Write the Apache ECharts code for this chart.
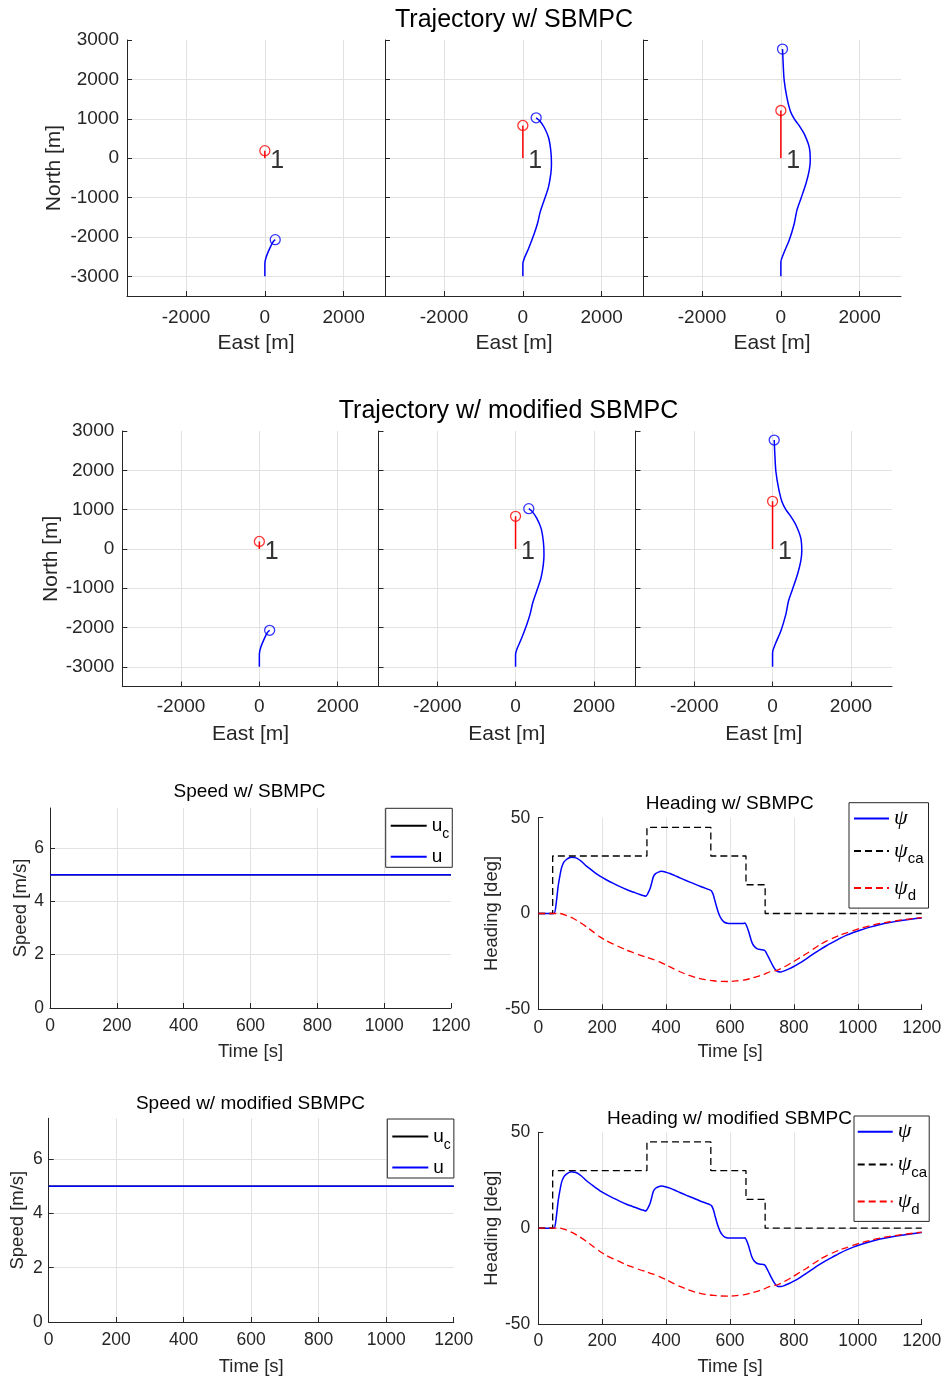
<!DOCTYPE html>
<html>
<head>
<meta charset="utf-8">
<script src="https://cdn.jsdelivr.net/npm/echarts@6/dist/echarts.min.js"></script>
<style>
  html, body { margin: 0; padding: 0; background: #ffffff; }
  #chart { width: 943px; height: 1381px; }
</style>
</head>
<body>
<div id="chart"></div>
<script>
// ---------------------------------------------------------------------------
// Data
// ---------------------------------------------------------------------------

// Own-ship track (East, North) [m] at three snapshots of the encounter
const ownTrack1 = [[0, -3000], [0, -2680], [34, -2510], [119, -2300], [203, -2130], [263, -2070]];
const ownTrack2 = [[0, -3000], [0, -2680], [34, -2550], [143, -2300], [287, -1920], [371, -1660],
  [439, -1370], [540, -1070], [650, -735], [709, -400], [726, -145], [709, 195], [650, 530],
  [540, 785], [422, 955], [338, 1025]];
const ownTrack3 = [[0, -3000], [0, -2640], [68, -2425], [212, -2085], [339, -1665], [407, -1325],
  [508, -1030], [636, -650], [720, -310], [746, -60], [720, 280], [593, 615], [470, 820], [340, 1000],
  [240, 1200], [153, 1545], [85, 1970], [59, 2390], [42, 2770]];

// Obstacle 1: starts at the origin and heads north; north position at each snapshot [m]
const obstacleStart = [0, 0];
const obstacleNorth = [190, 830, 1210];
const obstacleId = '1';

// Surge speed [m/s]
const speedTime = [0, 1200];
const speedCommand = [5, 5];
const speedActual = [5, 5];

// Heading [deg] versus time [s]
const headingPsi = [[0, 0], [49, 0], [55, 4], [62, 14], [68, 20], [73, 24], [80, 26.8], [89, 28.3],
  [97, 29.1], [104, 29.4], [112, 29.2], [120, 28.9], [135, 27.2], [151, 24.7], [172, 22], [193, 19.5],
  [214, 17.5], [235, 15.7], [256, 14], [276, 12.5], [297, 11.2], [318, 9.9], [330, 9.3], [337, 9.0],
  [343, 10.5], [350, 13], [355, 16], [360, 19.1], [367, 20.8], [376, 21.6], [385, 22], [391, 21.9],
  [400, 21.5], [412, 20.9], [428, 19.8], [443, 18.6], [464, 17.1], [485, 15.7], [506, 14.2],
  [527, 12.9], [537, 12.3], [542, 11.8], [548, 9.6], [553, 6.5], [558, 3.5], [563, 0.8], [569, -1.7],
  [576, -3.5], [584, -4.7], [592, -5.1], [600, -5.2], [620, -5.2], [640, -5.2], [647, -5.0],
  [652, -6.5], [657, -8.7], [662, -11.5], [668, -14.8], [675, -17], [684, -18.3], [695, -18.8],
  [705, -19], [710, -19.5], [715, -21], [720, -22.6], [728, -25.3], [736, -27.8], [743, -29.5],
  [751, -30.4], [760, -30.5], [768, -30.1], [783, -29], [798, -27.8], [819, -25.8], [840, -23.5],
  [861, -21.1], [882, -18.8], [903, -16.7], [924, -14.8], [944, -13], [965, -11.3], [986, -9.9],
  [1007, -8.7], [1038, -7.1], [1070, -5.7], [1100, -4.7], [1132, -3.8], [1165, -3.0], [1200, -2.3]];
const headingCa = [[0, 0], [45, 0], [45, 30], [340, 30], [340, 45], [540, 45], [540, 30], [650, 30],
  [650, 15], [710, 15], [710, 0], [1200, 0]];
const headingDesired = [[0, 0], [68, 0], [85, -0.8], [110, -2.6], [130, -4.6], [151, -7], [172, -9.6],
  [193, -12.2], [214, -14.3], [235, -16], [256, -17.6], [276, -19.1], [297, -20.4], [318, -21.7],
  [339, -22.8], [360, -24], [381, -25.4], [402, -27], [423, -28.8], [443, -30.4], [470, -32.2],
  [496, -33.6], [522, -34.5], [548, -35.1], [572, -35.4], [595, -35.5], [620, -35.2], [642, -34.8],
  [663, -34], [684, -33], [705, -31.8], [725, -30.4], [740, -29.9], [751, -29.4], [775, -27.4],
  [798, -25.2], [819, -23], [840, -20.9], [861, -18.5], [882, -16.2], [903, -14.3], [924, -12.7],
  [944, -11.3], [965, -10.1], [986, -8.9], [1007, -7.8], [1038, -6.4], [1070, -5.2], [1100, -4.3],
  [1132, -3.5], [1165, -2.8], [1200, -2.1]];

// ---------------------------------------------------------------------------
// Styling helpers
// ---------------------------------------------------------------------------
const FONT = '"Liberation Sans", Arial, Helvetica, sans-serif';
const AXIS_COLOR = '#262626';
const GRID_COLOR = '#e2e2e2';
const BLUE = '#0000ff';
const RED = '#ff0000';
const BLACK = '#000000';

const grids = [];
const xAxes = [];
const yAxes = [];
const series = [];
const legends = [];
const graphics = [];

function plainNumber(v) { return String(v); }

function titleText(text, x, y, size) {
  graphics.push({
    type: 'text', x: x, y: y, z: 10,
    style: { text: text, fill: BLACK, font: size + 'px ' + FONT, textAlign: 'center', textVerticalAlign: 'middle' }
  });
}

function axisBase(opts) {
  return Object.assign({
    type: 'value',
    axisLine: { show: true, onZero: false, lineStyle: { color: AXIS_COLOR, width: 1 } },
    axisTick: { show: true, inside: true, length: 5, lineStyle: { color: AXIS_COLOR, width: 1 } },
    splitLine: { show: true, showMinLine: false, showMaxLine: false, lineStyle: { color: GRID_COLOR, width: 1 } },
    nameLocation: 'middle'
  }, opts);
}

function labelStyle(size, margin, show, showMin, showMax) {
  return { show: show, color: AXIS_COLOR, fontFamily: FONT, fontSize: size, margin: margin,
           showMinLabel: showMin, showMaxLabel: showMax, formatter: plainNumber };
}

function nameStyle(size) {
  return { color: AXIS_COLOR, fontFamily: FONT, fontSize: size };
}

// ---------------------------------------------------------------------------
// Trajectory panels (two rows of three snapshots, equal aspect)
// ---------------------------------------------------------------------------
const ownTracks = [ownTrack1, ownTrack2, ownTrack3];
const trajRows = [
  { title: 'Trajectory w/ SBMPC', tx: 514, ty: 20, top: 40, height: 256,
    lefts: [127, 385, 643], width: 258, nameGapY: 62, labelMarginX: 12 },
  { title: 'Trajectory w/ modified SBMPC', tx: 508.5, ty: 411, top: 431, height: 255.5,
    lefts: [122.3, 378.5, 635.5], width: 256.5, nameGapY: 60, labelMarginX: 11 }
];

trajRows.forEach(function (row) {
  titleText(row.title, row.tx, row.ty, 25);
  row.lefts.forEach(function (left, k) {
    const gi = grids.length;
    grids.push({ left: left, top: row.top, width: row.width, height: row.height,
                 containLabel: false, outerBoundsMode: 'none' });
    xAxes.push(axisBase({
      gridIndex: gi, min: -3500, max: 3050, splitNumber: 3,
      axisLabel: labelStyle(19, row.labelMarginX, true, false, false),
      name: 'East [m]', nameGap: 37, nameTextStyle: nameStyle(21)
    }));
    yAxes.push(axisBase({
      gridIndex: gi, min: -3500, max: 3000, splitNumber: 6,
      axisLabel: labelStyle(19, 8, k === 0, false, true),
      name: k === 0 ? 'North [m]' : '', nameGap: row.nameGapY, nameTextStyle: nameStyle(21)
    }));

    const track = ownTracks[k];
    const obstacleEnd = [obstacleStart[0], obstacleNorth[k]];
    series.push({
      type: 'line', xAxisIndex: gi, yAxisIndex: gi, data: track, symbol: 'none',
      smooth: 0.3, lineStyle: { color: BLUE, width: 1.5 }, z: 3, silent: true
    });
    series.push({
      type: 'scatter', xAxisIndex: gi, yAxisIndex: gi, data: [track[track.length - 1]],
      symbol: 'circle', symbolSize: 10,
      itemStyle: { color: 'rgba(0,0,0,0)', borderColor: BLUE, borderWidth: 1.3 }, z: 4, silent: true
    });
    series.push({
      type: 'line', xAxisIndex: gi, yAxisIndex: gi, data: [obstacleStart, obstacleEnd], symbol: 'none',
      lineStyle: { color: RED, width: 1.5 }, z: 3, silent: true
    });
    series.push({
      type: 'scatter', xAxisIndex: gi, yAxisIndex: gi, data: [obstacleEnd],
      symbol: 'circle', symbolSize: 10,
      itemStyle: { color: 'rgba(0,0,0,0)', borderColor: RED, borderWidth: 1.3 }, z: 4, silent: true
    });
    // Obstacle number printed next to its starting point
    series.push({
      type: 'scatter', xAxisIndex: gi, yAxisIndex: gi, data: [obstacleStart],
      symbol: 'circle', symbolSize: 2,
      itemStyle: { color: 'rgba(0,0,0,0)', borderColor: 'rgba(0,0,0,0)' }, z: 5, silent: true,
      label: { show: true, position: 'right', distance: 4, offset: [0, 3], formatter: obstacleId,
               color: BLACK, fontFamily: FONT, fontSize: 25 }
    });
  });
});

// ---------------------------------------------------------------------------
// Speed and heading time plots
// ---------------------------------------------------------------------------
const speedPanels = [
  { title: 'Speed w/ SBMPC', tx: 249.5, ty: 792, left: 50, top: 808, width: 401, height: 200,
    lblX: 9, gapX: 34.5, nameGapY: 19.5, legend: { left: 385.7, top: 808.3 } },
  { title: 'Speed w/ modified SBMPC', tx: 250.5, ty: 1103.3, left: 48.7, top: 1118.3, width: 405, height: 203.7,
    lblX: 9.3, gapX: 35.5, nameGapY: 21, legend: { left: 387.3, top: 1119 } }
];
const headingPanels = [
  { title: 'Heading w/ SBMPC', tx: 729.7, ty: 803.7, left: 538.3, top: 817.7, width: 383.4, height: 191.6,
    lblX: 9.5, gapX: 33, legend: { left: 849, top: 802.7, padding: [4.5, 5, 4.5, 4] } },
  { title: 'Heading w/ modified SBMPC', tx: 729.5, ty: 1119, left: 538.3, top: 1132.3, width: 383.4, height: 191.7,
    lblX: 8, gapX: 33.4, legend: { left: 854, top: 1116, padding: [4.5, 2, 4.5, 2.7] } }
];

const timeAxis = function (gi, p) {
  return axisBase({
    gridIndex: gi, min: 0, max: 1200, interval: 200,
    axisLabel: labelStyle(17.5, p.lblX, true, true, true),
    name: 'Time [s]', nameGap: p.gapX, nameTextStyle: nameStyle(18.5)
  });
};

const legendText = {
  u_c: '{m|u}{s|c}',
  u: '{m|u}',
  psi: '{p|\u03c8}',
  psi_ca: '{p|\u03c8}{s|ca}',
  psi_d: '{p|\u03c8}{s|d}'
};

// Legend keys show only the line sample (no marker)
const legendItemStyle = { opacity: 0 };

speedPanels.forEach(function (p) {
  titleText(p.title, p.tx, p.ty, 19);
  const gi = grids.length;
  grids.push({ left: p.left, top: p.top, width: p.width, height: p.height, containLabel: false, outerBoundsMode: 'none' });
  xAxes.push(timeAxis(gi, p));
  yAxes.push(axisBase({
    gridIndex: gi, min: 0, max: 7.5, interval: 2,
    axisLabel: labelStyle(17.5, 6, true, true, false),
    name: 'Speed [m/s]', nameGap: p.nameGapY, nameTextStyle: nameStyle(18.5)
  }));
  series.push({
    name: 'u_c', type: 'line', xAxisIndex: gi, yAxisIndex: gi, symbol: 'none', silent: true,
    data: speedTime.map(function (t, i) { return [t, speedCommand[i]]; }),
    itemStyle: { color: BLACK }, lineStyle: { color: BLACK, width: 1.5 }
  });
  series.push({
    name: 'u', type: 'line', xAxisIndex: gi, yAxisIndex: gi, symbol: 'none', silent: true,
    data: speedTime.map(function (t, i) { return [t, speedActual[i]]; }),
    itemStyle: { color: BLUE }, lineStyle: { color: BLUE, width: 1.5 }
  });
  legends.push({
    data: ['u_c', 'u'], orient: 'vertical', left: p.legend.left, top: p.legend.top,
    padding: [2, 3, 1, 4], itemWidth: 36, itemHeight: 22, itemGap: 6, selectedMode: false,
    backgroundColor: '#ffffff', borderColor: AXIS_COLOR, borderWidth: 1, borderRadius: 0,
    itemStyle: legendItemStyle,
    formatter: function (name) { return legendText[name]; },
    textStyle: {
      rich: {
        m: { fontFamily: FONT, fontSize: 19, color: BLACK, lineHeight: 22 },
        s: { fontFamily: FONT, fontSize: 14, color: BLACK, lineHeight: 22, padding: [17, 0, 0, 0] }
      }
    }
  });
});

headingPanels.forEach(function (p) {
  titleText(p.title, p.tx, p.ty, 19);
  const gi = grids.length;
  grids.push({ left: p.left, top: p.top, width: p.width, height: p.height, containLabel: false, outerBoundsMode: 'none' });
  xAxes.push(timeAxis(gi, p));
  yAxes.push(axisBase({
    gridIndex: gi, min: -50, max: 50, interval: 50,
    axisLabel: labelStyle(17.5, 8, true, true, true),
    name: 'Heading [deg]', nameGap: 33, nameTextStyle: nameStyle(18.5)
  }));
  series.push({
    name: 'psi', type: 'line', xAxisIndex: gi, yAxisIndex: gi, symbol: 'none', silent: true,
    data: headingPsi, smooth: 0.2, itemStyle: { color: BLUE }, lineStyle: { color: BLUE, width: 1.5 }
  });
  series.push({
    name: 'psi_ca', type: 'line', xAxisIndex: gi, yAxisIndex: gi, symbol: 'none', silent: true,
    data: headingCa, itemStyle: { color: BLACK }, lineStyle: { color: BLACK, width: 1.3, type: [7, 4] }
  });
  series.push({
    name: 'psi_d', type: 'line', xAxisIndex: gi, yAxisIndex: gi, symbol: 'none', silent: true,
    data: headingDesired, smooth: 0.2, itemStyle: { color: RED }, lineStyle: { color: RED, width: 1.3, type: [7, 4] }
  });
  legends.push({
    data: ['psi', 'psi_ca', 'psi_d'], orient: 'vertical', left: p.legend.left, top: p.legend.top,
    padding: p.legend.padding, itemWidth: 35, itemHeight: 28, itemGap: 6, selectedMode: false,
    backgroundColor: '#ffffff', borderColor: AXIS_COLOR, borderWidth: 1, borderRadius: 0,
    itemStyle: legendItemStyle,
    formatter: function (name) { return legendText[name]; },
    textStyle: {
      rich: {
        p: { fontFamily: '"Liberation Serif", "DejaVu Serif", serif', fontStyle: 'italic', fontSize: 22,
             color: BLACK, lineHeight: 28 },
        s: { fontFamily: FONT, fontSize: 15, color: BLACK, lineHeight: 28, padding: [16, 0, 0, 0] }
      }
    }
  });
});

// ---------------------------------------------------------------------------
const chart = echarts.init(document.getElementById('chart'), null, { renderer: 'canvas', devicePixelRatio: 1 });
chart.setOption({
  animation: false,
  backgroundColor: '#ffffff',
  textStyle: { fontFamily: FONT },
  grid: grids,
  xAxis: xAxes,
  yAxis: yAxes,
  legend: legends,
  graphic: graphics,
  series: series
});
</script>
</body>
</html>
